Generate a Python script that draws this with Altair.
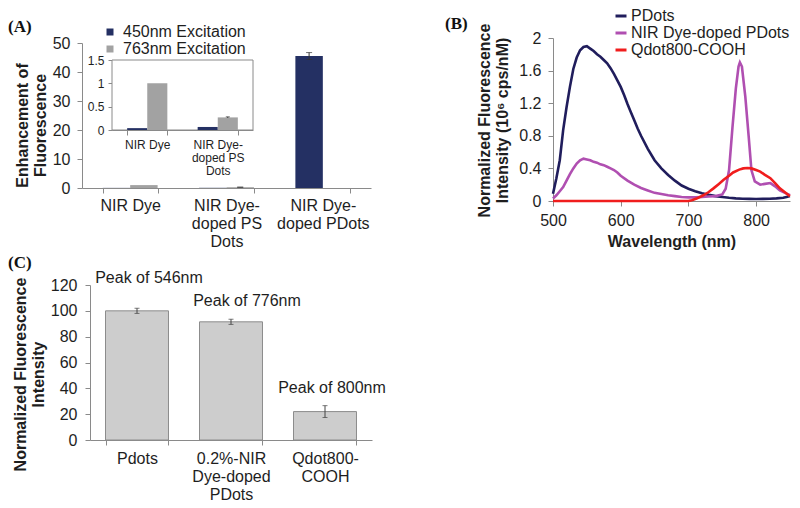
import altair as alt
import pandas as pd

# ---------------- data ----------------
# Panel A: enhancement of fluorescence (main chart + inset use the same values)
a_categories = ["NIR Dye", "NIR Dye-|doped PS|Dots", "NIR Dye-|doped PDots"]
a_series = ["450nm Excitation", "763nm Excitation"]
a_450 = [0.04, 0.065, 45.5]
a_450_err = [0.0, 0.0, 1.2]
a_763 = [1.0, 0.27, 0.0]
a_763_err = [0.0, 0.012, 0.0]
inset_categories = ["NIR Dye", "NIR Dye-|doped PS|Dots"]

# Panel B: emission spectra
b_series = ["PDots", "NIR Dye-doped PDots", "Qdot800-COOH"]
b_pdots_wl = [500, 505, 510, 515, 520, 525, 530, 535, 540, 545, 550, 555, 560, 565, 570, 575, 580,
              585, 590, 595, 600, 605, 610, 615, 620, 625, 630, 640, 650, 660, 670, 680, 690, 700,
              710, 720, 730, 740, 750, 760, 770, 780, 790, 800, 810, 820, 830, 840, 845, 850]
b_pdots_int = [0.09, 0.28, 0.50, 0.87, 1.15, 1.40, 1.62, 1.76, 1.85, 1.89, 1.90, 1.87, 1.84, 1.80,
               1.77, 1.73, 1.69, 1.63, 1.56, 1.48, 1.40, 1.30, 1.19, 1.09, 0.99, 0.89, 0.80, 0.64,
               0.50, 0.40, 0.32, 0.25, 0.19, 0.15, 0.12, 0.095, 0.075, 0.06, 0.05, 0.04, 0.032,
               0.028, 0.026, 0.025, 0.026, 0.028, 0.032, 0.04, 0.05, 0.06]
b_nir_wl = [500, 505, 510, 515, 520, 525, 530, 535, 540, 545, 550, 555, 560, 565, 570, 575, 580,
            585, 590, 595, 600, 610, 620, 630, 640, 650, 660, 670, 680, 690, 700, 710, 720, 730,
            740, 750, 755, 760, 765, 770, 774, 776, 779, 784, 789, 793, 798, 806, 813, 821, 828,
            835, 845, 850]
b_nir_int = [0.03, 0.07, 0.12, 0.17, 0.25, 0.33, 0.40, 0.46, 0.50, 0.52, 0.51, 0.50, 0.48, 0.47,
             0.45, 0.44, 0.42, 0.40, 0.38, 0.35, 0.31, 0.25, 0.20, 0.16, 0.13, 0.10, 0.085, 0.07,
             0.06, 0.05, 0.045, 0.045, 0.05, 0.055, 0.06, 0.08, 0.15, 0.38, 0.90, 1.38, 1.65,
             1.70, 1.65, 1.28, 0.79, 0.38, 0.24, 0.20, 0.21, 0.22, 0.18, 0.13, 0.09, 0.07]
b_qdot_wl = [500, 550, 600, 650, 700, 705, 712, 722, 730, 737, 745, 752, 760, 766, 775, 781, 787,
             793, 800, 806, 813, 821, 828, 835, 842, 848, 850]
b_qdot_int = [0.0, 0.0, 0.0, 0.0, 0.0, 0.01, 0.03, 0.07, 0.11, 0.155, 0.21, 0.26, 0.31, 0.35,
              0.385, 0.40, 0.405, 0.40, 0.38, 0.36, 0.32, 0.28, 0.22, 0.155, 0.11, 0.07, 0.06]

# Panel C: normalized fluorescence intensity
c_categories = ["Pdots", "0.2%-NIR|Dye-doped|PDots", "Qdot800-|COOH"]
c_values = [100, 91.5, 22]
c_err = [2.0, 2.0, 4.6]
c_peaks = ["Peak of 546nm", "Peak of 776nm", "Peak of 800nm"]

# ---------------- tables ----------------
rows = []
for i, cat in enumerate(a_categories):
    rows.append(dict(category=cat, series=a_series[0], value=a_450[i], err=a_450_err[i]))
    rows.append(dict(category=cat, series=a_series[1], value=a_763[i], err=a_763_err[i]))
dfA = pd.DataFrame(rows)
dfA["lo"] = dfA["value"] - dfA["err"]
dfA["hi"] = dfA["value"] + dfA["err"]
dfInset = dfA[dfA["category"].isin(inset_categories)].reset_index(drop=True)

dfB = pd.concat([
    pd.DataFrame({"wavelength": b_pdots_wl, "intensity": b_pdots_int, "sample": b_series[0]}),
    pd.DataFrame({"wavelength": b_nir_wl, "intensity": b_nir_int, "sample": b_series[1]}),
    pd.DataFrame({"wavelength": b_qdot_wl, "intensity": b_qdot_int, "sample": b_series[2]}),
], ignore_index=True)

dfC = pd.DataFrame({"category": c_categories, "value": c_values, "err": c_err, "peak": c_peaks})
dfC["lo"] = dfC["value"] - dfC["err"]
dfC["hi"] = dfC["value"] + dfC["err"]

# ---------------- style ----------------
FONT = "Liberation Sans"
AX = "#8a8a8a"
LAB = "#1e1e1e"
NAVY = "#243063"
HATCH = "#a2a2a2"
W, H = 784, 500


def band_x(cats, rng, offset, fs, lh, pad, pin, pout):
    return alt.X("category:N", sort=cats,
                 scale=alt.Scale(domain=cats, range=rng, paddingInner=pin, paddingOuter=pout),
                 axis=alt.Axis(title=None, orient="bottom", offset=offset, tickBand="extent",
                               labelAngle=0, labelFontSize=fs, labelLineHeight=lh,
                               labelPadding=pad, labelOverlap=False, tickSize=5,
                               labelExpr="split(datum.label, '|')"))


def val_y(field, domain, rng, offset, values, fs, title=None, pad=7, tick=5, title_y=None,
          title_pad=4):
    axis_kw = dict(orient="left", offset=offset, values=values, format="~r", labelFontSize=fs,
                   labelPadding=pad, tickSize=tick, titleFontSize=16, titleLineHeight=18,
                   titlePadding=title_pad, labelFlush=False, labelOverlap=False)
    axis_kw["title"] = title if title is not None else ""
    if title_y is not None:
        axis_kw["titleY"] = title_y
    return alt.Y(f"{field}:Q", scale=alt.Scale(domain=domain, range=rng, nice=False, zero=True),
                 axis=alt.Axis(**axis_kw))


# ---------------- panel A (main) ----------------
xA = band_x(a_categories, [74, 363], 180 - H, 16, 18, 4, 0.43, 0.215)
xoA = alt.XOffset("series:N", sort=a_series, scale=alt.Scale(domain=a_series, paddingInner=0))
yA_args = dict(domain=[0, 50], rng=[180, 35], offset=-74, values=[0, 10, 20, 30, 40, 50], fs=16,
               title=["Enhancement of", "Fluorescence"], title_y=117)
colA = alt.Color("series:N", sort=a_series,
                 scale=alt.Scale(domain=a_series, range=[NAVY, HATCH]),
                 legend=alt.Legend(title=None, orient="none", legendX=94, legendY=16,
                                   symbolType="square", symbolSize=49, symbolStrokeWidth=0,
                                   labelFontSize=16, labelFont=FONT, labelColor=LAB,
                                   rowPadding=1, labelOffset=5))
a_bars = alt.Chart(dfA).mark_bar().encode(x=xA, xOffset=xoA, y=val_y("value", **yA_args), color=colA)
a_err = dfA[dfA["err"] > 0]
a_rule = alt.Chart(a_err).mark_rule(color="#333333").encode(
    x=xA, xOffset=xoA, y=val_y("lo", **yA_args), y2="hi:Q")
a_tlo = alt.Chart(a_err).mark_tick(color="#333333", size=6, thickness=1).encode(
    x=xA, xOffset=xoA, y=val_y("lo", **yA_args))
a_thi = alt.Chart(a_err).mark_tick(color="#333333", size=6, thickness=1).encode(
    x=xA, xOffset=xoA, y=val_y("hi", **yA_args))
panelA = alt.layer(a_bars, a_rule, a_tlo, a_thi)

# ---------------- panel A (inset) ----------------
frame = alt.Chart(pd.DataFrame({"k": [0]})).mark_rect(fill="white", stroke=AX, strokeWidth=1).encode(
    x=alt.value(104), x2=alt.value(245), y=alt.value(52), y2=alt.value(122))
xI = band_x(inset_categories, [104, 245], 122 - H, 12, 13, 4, 0.43, 0.215)
xoI = alt.XOffset("series:N", sort=a_series, scale=alt.Scale(domain=a_series, paddingInner=0))
yI_args = dict(domain=[0, 1.5], rng=[122, 52], offset=-104, values=[0, 0.5, 1, 1.5], fs=12,
               pad=4, tick=4)
colI = alt.Color("series:N", sort=a_series, scale=alt.Scale(domain=a_series, range=[NAVY, HATCH]),
                 legend=None)
i_bars = alt.Chart(dfInset).mark_bar().encode(x=xI, xOffset=xoI, y=val_y("value", **yI_args), color=colI)
i_err = dfInset[dfInset["err"] > 0]
i_rule = alt.Chart(i_err).mark_rule(color="#333333").encode(
    x=xI, xOffset=xoI, y=val_y("lo", **yI_args), y2="hi:Q")
i_thi = alt.Chart(i_err).mark_tick(color="#333333", size=4, thickness=1).encode(
    x=xI, xOffset=xoI, y=val_y("hi", **yI_args))
panelI = alt.layer(i_bars, i_rule, i_thi)

# ---------------- panel B ----------------
xB = alt.X("wavelength:Q", scale=alt.Scale(domain=[500, 850], range=[545, 782], nice=False, zero=False),
           axis=alt.Axis(orient="bottom", offset=193 - H, values=[500, 600, 700, 800], format="d",
                         title="Wavelength (nm)", titleFontSize=16, titlePadding=5,
                         labelFontSize=16, labelPadding=6, tickSize=5, labelFlush=False))
yB = val_y("intensity", [0, 2], [193, 30], -545, [0, 0.4, 0.8, 1.2, 1.6, 2], 16,
           title=["Normalized Fluorescence", "Intensity (10\u2076 cps/nM)"], title_y=112,
           title_pad=8)
colB = alt.Color("sample:N", sort=b_series,
                 scale=alt.Scale(domain=b_series, range=["#201d5c", "#b04fb1", "#f01d1d"]),
                 legend=alt.Legend(title=None, orient="none", legendX=605, legendY=0,
                                   symbolType="stroke", symbolSize=121, symbolStrokeWidth=3,
                                   labelFontSize=16, labelFont=FONT, labelColor=LAB,
                                   labelOffset=2, rowPadding=1))
panelB = alt.Chart(dfB).mark_line(strokeWidth=2.6).encode(
    x=xB, y=yB, color=colB, order="wavelength:Q")

# ---------------- panel C ----------------
xC = band_x(c_categories, [82, 364], 432 - H, 16, 18, 5, 0.33, 0.165)
yC_args = dict(domain=[0, 120], rng=[432, 277], offset=-82, values=[0, 20, 40, 60, 80, 100, 120],
               fs=16, pad=8, title=["Normalized Fluorescence", "Intensity"], title_y=366)
c_bars = alt.Chart(dfC).mark_bar(color="#cdcdcd", stroke="#8c8c8c", strokeWidth=1).encode(
    x=xC, y=val_y("value", **yC_args))
c_rule = alt.Chart(dfC).mark_rule(color="#444444").encode(x=xC, y=val_y("lo", **yC_args), y2="hi:Q")
c_tlo = alt.Chart(dfC).mark_tick(color="#444444", size=5, thickness=1).encode(
    x=xC, y=val_y("lo", **yC_args))
c_thi = alt.Chart(dfC).mark_tick(color="#444444", size=5, thickness=1).encode(
    x=xC, y=val_y("hi", **yC_args))
peak_shift = [(12, -33), (16, -21), (7, -24)]
c_text = []
for i, (dx, dy) in enumerate(peak_shift):
    c_text.append(
        alt.Chart(dfC.iloc[[i]]).mark_text(fontSize=16, font=FONT, color=LAB, dx=dx, dy=dy,
                                            align="center", baseline="middle")
        .encode(x=xC, y=val_y("value", **yC_args), text="peak:N"))
panelC = alt.layer(c_bars, c_rule, c_tlo, c_thi, *c_text)

# ---------------- panel letters ----------------
letters = []
for txt, px, py in [("(A)", 0, 19), ("(B)", 437, 16), ("(C)", 0, 255)]:
    letters.append(
        alt.Chart(pd.DataFrame({"t": [txt]})).mark_text(
            font="Liberation Serif", fontWeight="bold", fontSize=17, color="#111111",
            align="left", baseline="middle")
        .encode(x=alt.value(px), y=alt.value(py), text="t:N"))

chart = (
    alt.layer(panelA, frame, panelI, panelB, panelC, *letters)
    .resolve_scale(x="independent", y="independent", color="independent", xOffset="independent")
    .resolve_axis(x="independent", y="independent")
    .resolve_legend(color="independent")
    .properties(width=W, height=H, padding=0, autosize=alt.AutoSizeParams(type="none"),
                background="white")
    .configure_view(strokeWidth=0)
    .configure_axis(grid=False, domainColor=AX, tickColor=AX, labelColor=LAB, titleColor=LAB,
                    labelFont=FONT, titleFont=FONT, titleFontWeight="bold")
)

chart.save("out.html", embed_options={"renderer": "svg", "actions": False})
